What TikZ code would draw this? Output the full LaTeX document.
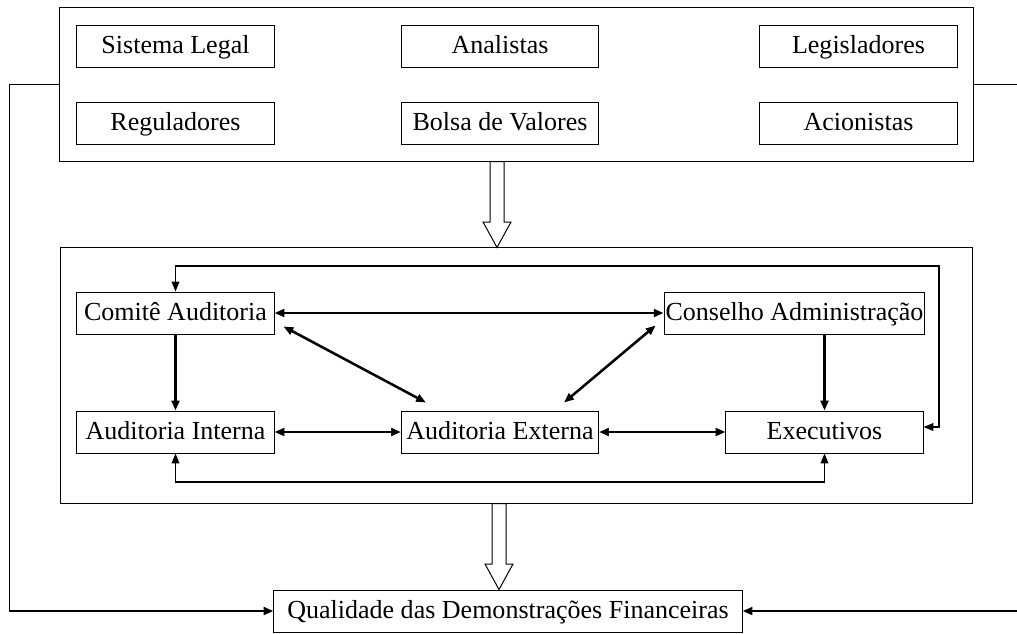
\documentclass[tikz,border=0pt]{standalone}
\usepackage{fontspec}
\setmainfont{Liberation Serif}
\usepackage{tikz}
\usetikzlibrary{arrows.meta,positioning,calc}

\begin{document}
\begin{tikzpicture}[
    x=0.025cm, y=-0.025cm,
    font=\fontsize{18.5}{21}\selectfont,
    box/.style={draw, line width=0.7pt, minimum height=1.05cm, inner sep=1pt, text height=14pt, text depth=4pt},
    wide/.style={box, minimum width=4.925cm},
    frame/.style={draw, line width=0.7pt},
    arrow/.style={-{Triangle[length=7pt,width=5.5pt]}, line width=1.8pt},
    both/.style={{Triangle[length=7pt,width=5.5pt]}-{Triangle[length=7pt,width=5.5pt]}, line width=1.8pt},
    hollow/.style={draw, line width=0.7pt, fill=white}
]
    \useasboundingbox (0,0) rectangle (1017,633);

    % Environment
    \node[frame, minimum width=22.825cm, minimum height=3.825cm] (env) at (516.5,84.5) {};
    \node[wide] (sis) at (175.5,46) {Sistema Legal};
    \node[wide] (ana) at (500,46) {Analistas};
    \node[wide] (leg) at (858.5,46) {Legisladores};
    \node[wide] (reg) at (175.5,123) {Reguladores};
    \node[wide] (bol) at (500,123) {Bolsa de Valores};
    \node[wide] (aci) at (858.5,123) {Acionistas};

    % Governance
    \node[frame, minimum width=22.775cm, minimum height=6.375cm] (gov) at (516.5,375.5) {};
    \node[wide] (com) at (175.5,313) {Comitê Auditoria};
    \node[box, minimum width=6.425cm] (con) at (794.5,313) {Conselho Administração};
    \node[wide] (ain) at (175.5,432) {Auditoria Interna};
    \node[wide] (aex) at (500,432) {Auditoria Externa};
    \node[wide] (exe) at (824.5,432) {Executivos};

    % Result
    \node[box, minimum width=11.7cm] (qual) at (508,611) {Qualidade das Demonstrações Financeiras};

    % Hollow arrows
    \path[hollow] (490,0 |- env.south) -- (504,0 |- env.south) -- (504,222) -- (511,222)
        -- (497,0 |- gov.north) -- (483,222) -- (490,222) -- cycle;
    \path[hollow] (492,0 |- gov.south) -- (506,0 |- gov.south) -- (506,564) -- (513,564)
        -- (499,0 |- qual.north) -- (485,564) -- (492,564) -- cycle;

    % Feedback to the result
    \coordinate (lft) at (9,611);
    \coordinate (rgtup) at (1017,84.5);
    \coordinate (rgtdn) at (1017,611);
    \draw[line width=0.7pt] (env.west) -| (lft);
    \draw[arrow] (lft) -- (qual.west);
    \draw[line width=0.7pt] (env.east) -- (rgtup);
    \draw[arrow] (rgtdn) -- (qual.east);

    % Relations
    \draw[both] (com.east) -- (con.west);
    \draw[arrow] (com.south) -- (ain.north);
    \draw[arrow] (con.south -| exe.north) -- (exe.north);
    \draw[both] (ain.east) -- (aex.west);
    \draw[both] (aex.east) -- (exe.west);
    \draw[both] ($(com.south east)+(9,-8)$) -- ($(aex.north west)+(25,-8)$);
    \draw[both] ($(con.south west)+(-8,-9)$) -- ($(aex.north east)+(-35,-8)$);

    % Loops
    \coordinate (loop) at (939,266);
    \draw[both, line width=0.8pt] (com.north) |- (loop) |- ($(exe.east)+(0,-5)$);
    \draw[both, line width=0.8pt] (ain.south) |- (500,482) -| (exe.south);
\end{tikzpicture}
\end{document}
